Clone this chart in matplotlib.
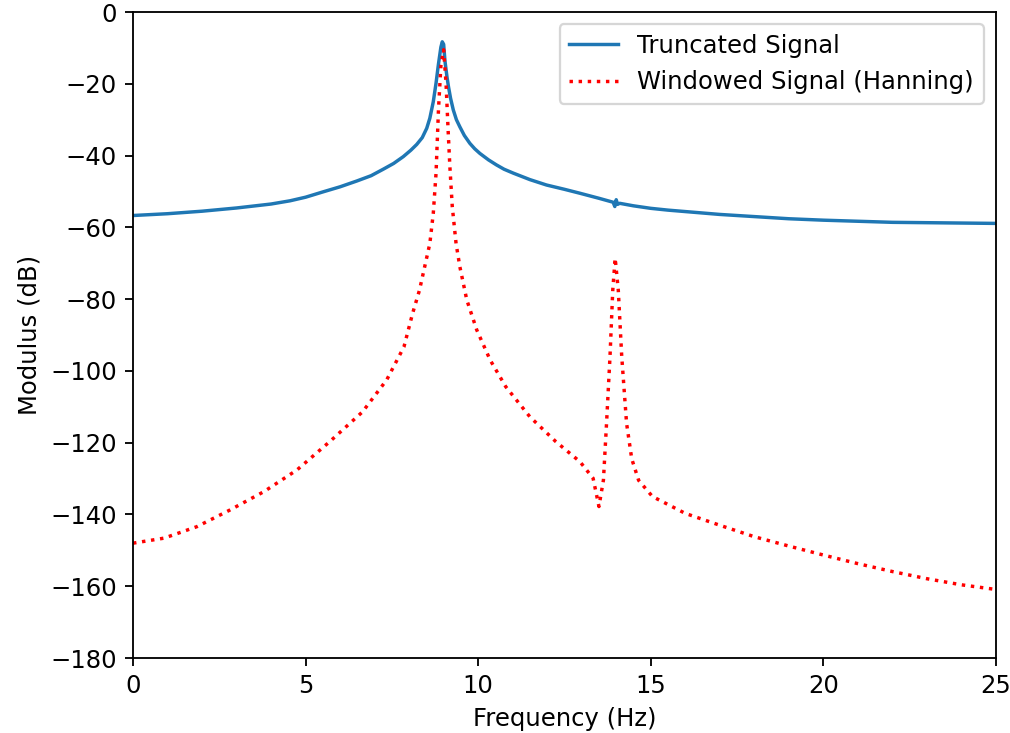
import numpy as np
import matplotlib
matplotlib.use("Agg")
import matplotlib.pyplot as plt

# values (Hz, dB)
trunc_freq = [0.0, 1.0, 2.0, 3.0, 4.0, 4.55, 5.0, 5.51, 6.0, 6.48, 6.9,
              7.25, 7.55, 7.83, 8.05, 8.22, 8.38, 8.51, 8.6, 8.7, 8.78,
              8.85, 8.92, 8.96, 9.0, 9.04, 9.1, 9.14, 9.2, 9.28, 9.37,
              9.47, 9.6, 9.76, 9.9, 10.05, 10.3, 10.53, 10.75, 11.02,
              11.5, 11.98, 12.5, 12.95, 13.5, 13.91, 13.96, 14.0, 14.04,
              14.1, 14.5, 15.0, 15.5, 16.0, 17.0, 18.0, 19.0, 20.0, 21.0,
              22.0, 23.0, 24.0, 25.0]
trunc_db = [-56.7, -56.2, -55.5, -54.6, -53.5, -52.6, -51.6, -50.1, -48.7,
            -47.1, -45.6, -43.8, -42.2, -40.3, -38.5, -36.9, -35.0, -32.4,
            -29.6, -25.0, -19.8, -14.5, -9.8, -8.3, -9.0, -13.8, -18.3,
            -20.8, -24.0, -27.3, -30.0, -32.0, -34.4, -36.6, -38.1, -39.4,
            -41.2, -42.6, -43.8, -44.9, -46.7, -48.2, -49.4, -50.5, -51.9,
            -53.0, -54.2, -52.3, -53.6, -53.3, -54.0, -54.7, -55.2, -55.6,
            -56.4, -57.0, -57.6, -58.0, -58.3, -58.6, -58.7, -58.8, -58.9]

hann_freq = [0.0, 0.9, 1.85, 2.8, 3.8, 4.75, 5.7, 6.65, 7.35, 7.85, 8.1,
             8.3, 8.45, 8.6, 8.7, 8.78, 8.85, 8.92, 9.0, 9.07, 9.13,
             9.18, 9.25, 9.36, 9.47, 9.67, 9.96, 10.35, 10.8, 11.5, 12.25,
             12.95, 13.33, 13.5, 13.63, 13.72, 13.82, 13.9, 13.97, 14.06,
             14.16, 14.3, 14.45, 14.65, 15.05, 16.0, 17.0, 18.0, 19.0,
             20.0, 21.0, 22.0, 23.0, 24.0, 25.0]
hann_db = [-148.0, -146.6, -143.4, -138.8, -133.6, -127.6, -119.7, -111.4,
           -102.5, -93.3, -84.0, -77.5, -71.0, -64.5, -56.1, -44.9, -27.3,
           -15.0, -10.5, -20.0, -33.0, -43.0, -54.2, -64.5, -71.0, -80.2,
           -88.6, -97.0, -104.4, -112.8, -119.7, -125.3, -129.9, -137.8,
           -130.4, -114.6, -96.0, -77.5, -68.6, -77.5, -96.0, -114.6,
           -124.5, -130.5, -135.0, -139.7, -143.0, -146.2, -148.8,
           -151.3, -153.7, -155.9, -157.9, -159.6, -160.9]

DPI = 165
plt.rcParams["font.size"] = 10.6

fig = plt.figure(figsize=(1010 / DPI, 733 / DPI), dpi=DPI)
ax = fig.add_axes([0.1317, 0.1023, 0.8543, 0.8813])

ax.plot(trunc_freq, trunc_db, color="tab:blue", label="Truncated Signal")
ax.plot(hann_freq, hann_db, color="red", ls=":",
        label="Windowed Signal (Hanning)")

ax.set_xlim(0, 25)
ax.set_ylim(-180, 0)
ax.set_xlabel("Frequency (Hz)")
ax.set_ylabel("Modulus (dB)")
ax.legend(loc="upper right")

fig.savefig("out.png", dpi=DPI)
